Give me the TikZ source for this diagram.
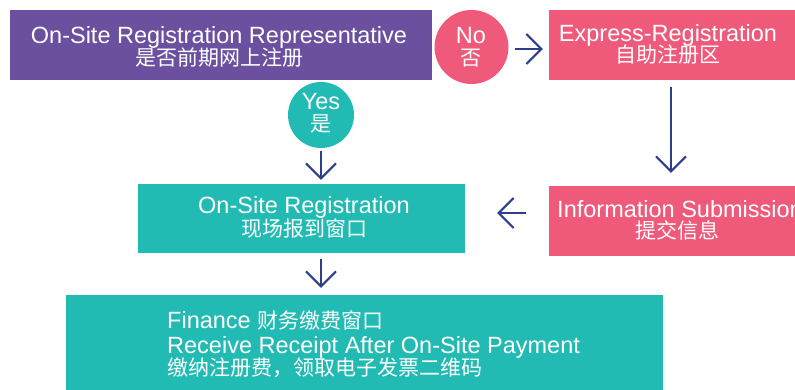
\documentclass[tikz,border=0pt]{standalone}
\usepackage{fontspec}
\setmainfont{Liberation Sans}
\newfontfamily\cjk{Noto Sans CJK SC}
\usetikzlibrary{arrows.meta,calc}
\definecolor{repPurple}{HTML}{6A509F}
\definecolor{regPink}{HTML}{EF5A7B}
\definecolor{regTeal}{HTML}{22BBB4}
\definecolor{arrNavy}{HTML}{2C3E8C}
\newcommand{\latfont}{\fontsize{23.5}{25}\selectfont}
\newcommand{\zhfont}{\cjk\fontsize{21}{25}\selectfont}
\begin{document}
\begin{tikzpicture}[x=1pt,y=-1pt,
  box/.style={rectangle,inner sep=0pt,draw=none},
  disc/.style={circle,inner sep=0pt,draw=none},
  lat/.style={anchor=base,inner sep=0pt,text=white,font=\latfont,text height=17pt,text depth=4pt},
  zh/.style={anchor=base,inner sep=0pt,text=white,font=\zhfont,text height=16pt,text depth=2pt},
  arr/.style={draw=arrNavy,line width=2pt,-{Straight Barb[length=15pt,width=30pt]}}]
\useasboundingbox (0,0) rectangle (795,389);
\clip (0,0) rectangle (795,389);
% boxes
\node[box,fill=repPurple,minimum width=422pt,minimum height=70pt] (rep) at (221,45) {};
\node[box,fill=regPink,minimum width=250pt,minimum height=70pt] (express) at (674,45) {};
\node[box,fill=regPink,minimum width=250pt,minimum height=70pt] (info) at (674,221) {};
\node[box,fill=regTeal,minimum width=327pt,minimum height=69pt] (onsite) at (301.5,218.5) {};
\node[box,fill=regTeal,minimum width=597pt,minimum height=96pt] (finance) at (364.5,343) {};
\node[disc,fill=regPink,minimum size=74pt] (no) at (471.5,47) {};
\node[disc,fill=regTeal,minimum size=66pt] (yes) at (321,115) {};
% texts
\node[lat] (repA) at (219,43) {On-Site Registration Representative};
\node[zh] (repB) at (219,65.5) {是否前期网上注册};
\node[lat] (noA) at (471,43) {No};
\node[zh] (noB) at (471,65) {否};
\node[lat] (exA) at (668,41) {Express-Registration};
\node[zh] (exB) at (668,62.5) {自助注册区};
\node[lat] (yesA) at (321,109) {Yes};
\node[zh] (yesB) at (321,131) {是};
\node[lat] (osA) at (304,213) {On-Site Registration};
\node[zh] (osB) at (304,236) {现场报到窗口};
\node[lat] (infA) at (680,217) {Information Submission};
\node[zh] (infB) at (677,238.5) {提交信息};
\node[lat,anchor=base west] (finA) at (167,328) {Finance {\zhfont 财务缴费窗口}};
\node[lat,anchor=base west] (finB) at (167,353) {Receive Receipt After On-Site Payment};
\node[zh,anchor=base west] (finC) at (167,375) {缴纳注册费，领取电子发票二维码};
% arrows
\draw[arr] ($(no.east)+(6,2)$) -- ($(express.west)+(-6,4)$);
\draw[arr] ($(express.south)+(-3,7)$) -- ($(info.north)+(-3,-13)$);
\draw[arr] ($(info.west)+(-23,-8)$) -- ($(onsite.east)+(32,-5.5)$);
\draw[arr] ($(yes.south)+(0,3)$) -- ($(yes.south |- onsite.north)+(0,-4)$);
\draw[arr] ($(yes.south |- onsite.south)+(0,6)$) -- ($(yes.south |- finance.north)+(0,-7)$);
\end{tikzpicture}
\end{document}
